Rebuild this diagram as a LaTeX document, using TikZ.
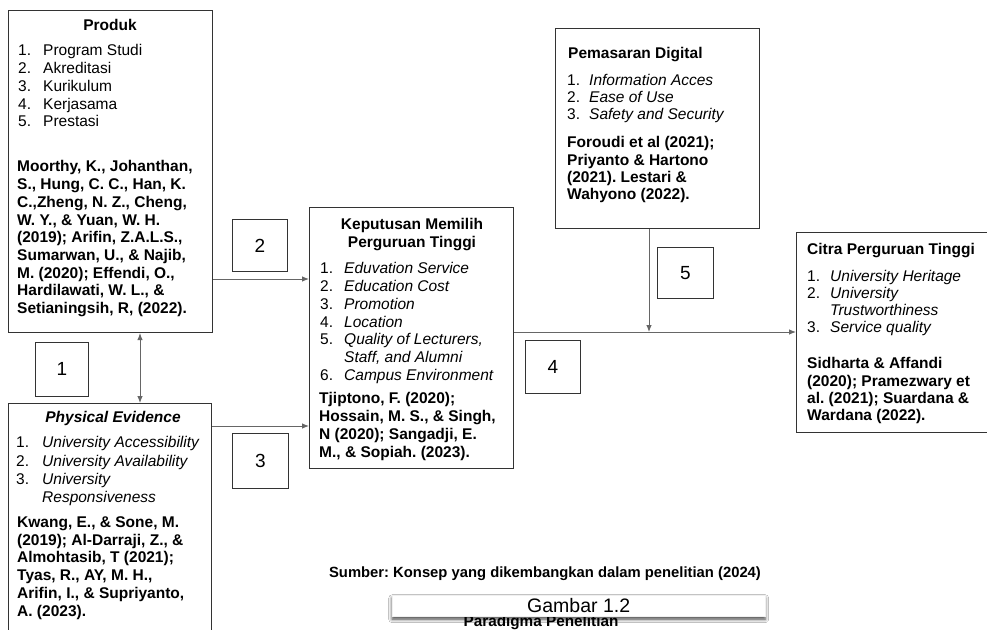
\documentclass[tikz,border=0pt]{standalone}
\usepackage{fontspec}
\setmainfont{Liberation Sans}
\usetikzlibrary{arrows.meta,shadows.blur}
\frenchspacing
% number label of a list item, in a fixed-width slot
\newcommand\numlbl[2][25pt]{\makebox[#1][l]{#2}}

\begin{document}
\begin{tikzpicture}[x=1pt,y=-1pt,
  frame/.style={draw=black!80, line width=1.1pt, inner sep=0pt, anchor=north west},
  numbox/.style={draw=black!80, line width=0.9pt, inner sep=0pt, anchor=north west,
    font=\fontsize{19}{22}\selectfont},
  link/.style={draw=black!60, line width=0.9pt},
  tip/.style={-{Latex[length=7pt,width=5.5pt]}},
  body/.style={inner sep=0pt, anchor=north west, align=left,
    font=\fontsize{15.5}{17.7}\selectfont},
  bodyB/.style={body, font=\bfseries\fontsize{15.5}{17.7}\selectfont},
  bodyR/.style={body, font=\fontsize{15.5}{17}\selectfont},
  bodyRB/.style={body, font=\bfseries\fontsize{15.5}{17.2}\selectfont},
  head/.style={inner sep=0pt, align=center, font=\bfseries\fontsize{15.5}{17.7}\selectfont},
]
\useasboundingbox (0,0) rectangle (987,629);
\fill[white] (0,0) rectangle (987,629);

% ---- boxes
\node[frame, minimum width=204pt, minimum height=322pt] (produk) at (8,10) {};
\node[frame, minimum width=203pt, minimum height=240pt] (phys) at (8,403) {};
\node[frame, minimum width=204pt, minimum height=261pt] (kep) at (309,207) {};
\node[frame, minimum width=204pt, minimum height=200pt] (pem) at (555,28) {};
\node[frame, minimum width=200pt, minimum height=200pt] (citra) at (796,232) {};

% ---- numbered path labels
\node[numbox, minimum width=53pt, minimum height=54pt] (n1) at (35,342) {1};
\node[numbox, minimum width=55pt, minimum height=52pt] (n2) at (232,219) {2};
\node[numbox, minimum width=56pt, minimum height=55pt] (n3) at (232,433) {3};
\node[numbox, minimum width=55pt, minimum height=53pt] (n4) at (525,340) {4};
\node[numbox, minimum width=56pt, minimum height=51pt] (n5) at (657,247) {5};

% ---- connectors
\coordinate (x1) at (140,0);
\coordinate (y2) at (0,279);
\coordinate (y3) at (0,426);
\coordinate (join) at (649,332);
\draw[link, {Latex[length=7pt,width=5.5pt]}-{Latex[length=7pt,width=5.5pt]}]
  (produk.south -| x1) -- (phys.north -| x1);
\draw[link, tip] (produk.east |- y2) -- (kep.west |- y2);
\draw[link, tip] (phys.east |- y3) -- (kep.west |- y3);
\draw[link, tip] (kep.east |- join) -- (citra.west |- join);
\draw[link, tip] (pem.south -| join) -- (join);

% ---- Produk
\node[head, anchor=north] (produkT) at (110,19.5) {Produk};
\node[body] (produkL) at (18,44.5) {\numlbl{1.}Program Studi\\
  \numlbl{2.}Akreditasi\\ \numlbl{3.}Kurikulum\\ \numlbl{4.}Kerjasama\\ \numlbl{5.}Prestasi};
\node[bodyB] (produkR) at (17,160.5) {Moorthy, K., Johanthan,\\S., Hung, C. C., Han, K.\\
  C.,Zheng, N. Z., Cheng,\\W. Y., \& Yuan, W. H.\\(2019); Arifin, Z.A.L.S.,\\
  Sumarwan, U., \& Najib,\\M. (2020); Effendi, O.,\\Hardilawati, W. L., \&\\
  Setianingsih, R, (2022).};

% ---- Physical Evidence
\node[head, anchor=north] (physT) at (113,411.5) {\textit{Physical Evidence}};
\node[body, font=\fontsize{15.5}{18.2}\selectfont] (physL) at (16,436.5)
  {\numlbl[26pt]{1.}\textit{University Accessibility}\\
   \numlbl[26pt]{2.}\textit{University Availability}\\
   \numlbl[26pt]{3.}\textit{University}\\
   \numlbl[26pt]{}\textit{Responsiveness}};
\node[bodyB] (physR) at (17,516.5) {Kwang, E., \& Sone, M.\\(2019); Al-Darraji, Z., \&\\
  Almohtasib, T (2021);\\Tyas, R., AY, M. H.,\\Arifin, I., \& Supriyanto,\\A. (2023).};

% ---- Keputusan Memilih Perguruan Tinggi
\node[head, anchor=north] (kepT) at (412,218.5) {Keputusan Memilih\\Perguruan Tinggi};
\node[body] (kepL) at (320,262.5)
  {\numlbl[24pt]{1.}\textit{Eduvation Service}\\
   \numlbl[24pt]{2.}\textit{Education Cost}\\
   \numlbl[24pt]{3.}\textit{Promotion}\\
   \numlbl[24pt]{4.}\textit{Location}\\
   \numlbl[24pt]{5.}\textit{Quality of Lecturers,}\\
   \numlbl[24pt]{}\textit{Staff, and Alumni}\\
   \numlbl[24pt]{6.}\textit{Campus Environment}};
\node[bodyB] (kepR) at (319,392.5) {Tjiptono, F. (2020);\\Hossain, M. S., \& Singh,\\
  N (2020); Sangadji, E.\\M., \& Sopiah. (2023).};

% ---- Pemasaran Digital
\node[head, anchor=north west] (pemT) at (568,47.5) {Pemasaran Digital};
\node[bodyR] (pemL) at (567,74.5)
  {\numlbl[22pt]{1.}\textit{Information Acces}\\
   \numlbl[22pt]{2.}\textit{Ease of Use}\\
   \numlbl[22pt]{3.}\textit{Safety and Security}};
\node[bodyRB] (pemR) at (567,136.5) {Foroudi et al (2021);\\Priyanto \& Hartono\\
  (2021). Lestari \&\\Wahyono (2022).};

% ---- Citra Perguruan Tinggi
\node[head, anchor=north west] (citraT) at (807,243.5) {Citra Perguruan Tinggi};
\node[bodyR] (citraL) at (807,270.5)
  {\numlbl[23pt]{1.}\textit{University Heritage}\\
   \numlbl[23pt]{2.}\textit{University}\\
   \numlbl[23pt]{}\textit{Trustworthiness}\\
   \numlbl[23pt]{3.}\textit{Service quality}};
\node[bodyRB] (citraR) at (807,357.5) {Sidharta \& Affandi\\(2020); Pramezwary et\\
  al. (2021); Suardana \&\\Wardana (2022).};

% ---- source note and caption
\node[head, font=\bfseries\fontsize{14.8}{17}\selectfont] (sumber) at (545,574)
  {Sumber: Konsep yang dikembangkan dalam penelitian (2024)};
\node[head, anchor=base, font=\bfseries\fontsize{15.3}{17}\selectfont] (paradigma)
  at (541,626) {Paradigma Penelitian};
\node[draw=black!6, fill=white, inner sep=0pt, anchor=north west,
  minimum width=373pt, minimum height=21pt, font=\fontsize{19.5}{22}\selectfont,
  blur shadow={shadow xshift=0pt, shadow yshift=-3pt, shadow blur radius=3.5pt,
    shadow opacity=75}] (gambar) at (392,595) {Gambar 1.2};
\end{tikzpicture}
\end{document}
